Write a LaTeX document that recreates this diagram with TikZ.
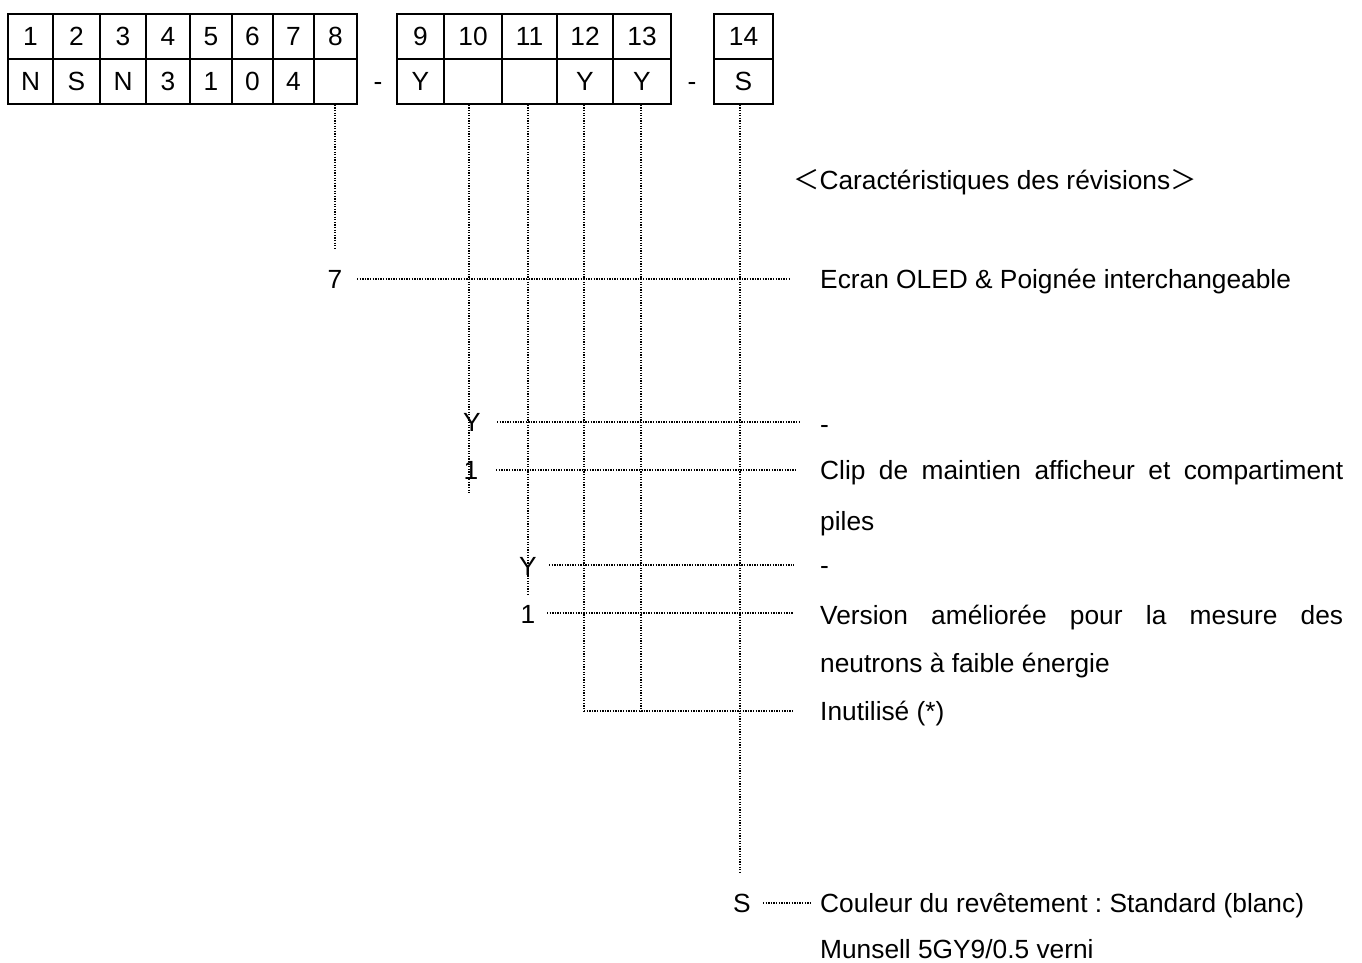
\documentclass[tikz,border=0pt]{standalone}
\usepackage{fontspec}
\setmainfont{Liberation Sans}
\newfontfamily\cjkfont{Noto Sans CJK JP}
\frenchspacing
\begin{document}
\begin{tikzpicture}[x=1pt,y=-1pt,
  every node/.style={inner sep=0pt, font=\fontsize{26.3}{31}\selectfont},
  cell/.style={draw, line width=1.5pt, minimum height=45pt, inner sep=0pt},
  dotline/.style={line width=1.4pt, dash pattern=on 1.3pt off 1.3pt},
  desc/.style={anchor=base west},
  lab/.style={anchor=center}]
\useasboundingbox (0,0) rectangle (1362,963);
% code table
\foreach \i/\l/\r/\t/\b in {1/8/53/1/N,2/53/100/2/S,3/100/146/3/N,4/146/190/4/3,5/190/232/5/1,6/232/273/6/0,7/273/314/7/4,8/314/357/8/,9/397/444/9/Y,10/444/502/10/,11/502/557/11/,12/557/613/12/Y,13/613/671/13/Y,14/714/773/14/S}{
  \pgfmathsetmacro\w{\r-\l}
  \pgfmathsetmacro\c{(\r+\l)/2}
  \node[cell, minimum width=\w pt] (t\i) at (\c,36.5) {\t};
  \node[cell, minimum width=\w pt] (b\i) at (\c,81.5) {\b};
}
\node[anchor=base] (dash1) at (378,91) {-};
\node[anchor=base] (dash2) at (692,91) {-};
% vertical leaders
\coordinate (v8) at (335,248);
\coordinate (v10) at (469,494);
\coordinate (v11) at (528,595);
\coordinate (v12) at (584,711);
\coordinate (v13) at (641,711);
\coordinate (v14) at (740,873);
\draw[dotline] (b8.south -| v8) -- (v8);
\draw[dotline] (b10.south -| v10) -- (v10);
\draw[dotline] (b11.south -| v11) -- (v11);
\draw[dotline] (b12.south -| v12) -- (v12);
\draw[dotline] (b13.south -| v13) -- (v13);
\draw[dotline] (b14.south -| v14) -- (v14);
% labels
\node[lab] (l7) at (335,279) {7};
\node[lab] (l10y) at (472,422) {Y};
\node[lab] (l10a) at (471,470) {1};
\node[lab] (l11y) at (528,566) {Y};
\node[lab] (l11a) at (528,614) {1};
\node[lab] (l14s) at (742,903) {S};
% horizontal leaders
\coordinate (h7s) at (357,279);   \coordinate (h7e) at (790,279);
\coordinate (hYs) at (497,422);   \coordinate (hYe) at (799,422);
\coordinate (h1s) at (496,470);   \coordinate (h1e) at (797,470);
\coordinate (hY2s) at (549,565);  \coordinate (hY2e) at (794,565);
\coordinate (h12s) at (547,613);  \coordinate (h12e) at (793,613);
\coordinate (hIe) at (793,711);
\coordinate (hSs) at (763,903);   \coordinate (hSe) at (810,903);
\draw[dotline] (h7s) -- (h7e);
\draw[dotline] (hYs) -- (hYe);
\draw[dotline] (h1s) -- (h1e);
\draw[dotline] (hY2s) -- (hY2e);
\draw[dotline] (h12s) -- (h12e);
\draw[dotline] (v12) -- (hIe);
\draw[dotline] (hSs) -- (hSe);
% descriptions
\node[desc] (hdr) at (793,189.3) {{\cjkfont ＜}Caractéristiques des révisions{\cjkfont ＞}};
\node[desc] (d7) at (820,288.3) {Ecran OLED \& Poignée interchangeable};
\node[desc] (d10y) at (820,433.3) {-};
\node[desc] (d10a) at (820,479.3) {\makebox[523pt][s]{Clip de maintien afficheur et compartiment}};
\node[desc] (d10b) at (820,530.3) {piles};
\node[desc] (d11y) at (820,574.3) {-};
\node[desc] (d11a) at (820,624.3) {\makebox[523pt][s]{Version améliorée pour la mesure des}};
\node[desc] (d11b) at (820,672.3) {neutrons à faible énergie};
\node[desc] (d12) at (820,720.3) {Inutilisé (*)};
\node[desc] (d14a) at (820,912.3) {Couleur du revêtement : Standard (blanc)};
\node[desc] (d14b) at (820,958.3) {Munsell 5GY9/0.5 verni};
\end{tikzpicture}
\end{document}
